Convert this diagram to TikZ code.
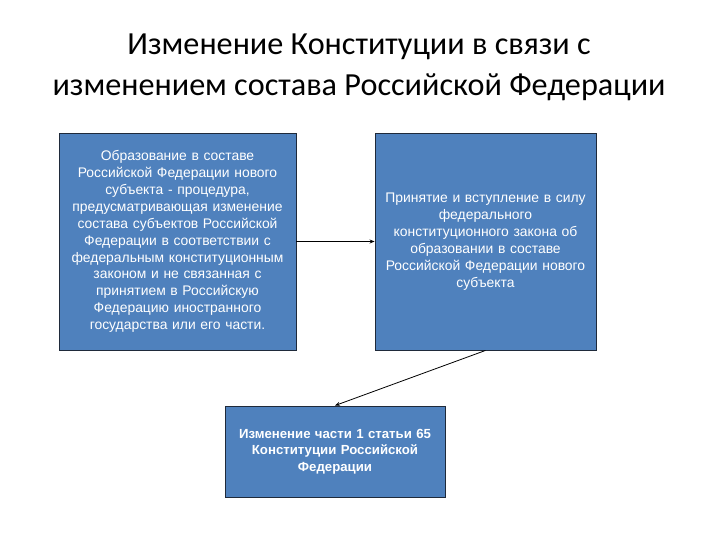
\documentclass[tikz,border=0pt]{standalone}
\usepackage{fontspec}
\setmainfont{Liberation Sans}
\newfontfamily\titlefont{Carlito}
\usepackage{xcolor}
\usetikzlibrary{arrows.meta}
\definecolor{boxblue}{HTML}{4F81BD}
\definecolor{boxline}{HTML}{1F2A3A}

\tikzset{
  blockbox/.style={draw=boxline, line width=0.9pt, fill=boxblue, text=white,
    align=center, inner sep=4pt, font=\fontsize{13.9}{16.9}\selectfont},
  link/.style={-{Stealth[length=5pt,width=4pt]}, line width=0.8pt}
}

\begin{document}
\begin{tikzpicture}[x=1pt, y=-1pt]
\useasboundingbox[fill=white] (0,0) rectangle (720,540);

\node[font=\titlefont\fontsize{32.2}{41}\selectfont, align=center] (title) at (359,67.5)
  {Изменение Конституции в связи с\\изменением состава Российской Федерации};

\node[blockbox, minimum width=237pt, minimum height=217pt, text width=229pt] (form) at (177.5,241.5)
  {Образование в составе\\Российской Федерации нового\\субъекта - процедура,\\предусматривающая изменение\\состава субъектов Российской\\Федерации в соответствии с\\федеральным конституционным\\законом и не связанная с\\принятием в Российскую\\Федерацию иностранного\\государства или его части.};

\node[blockbox, minimum width=221pt, minimum height=217pt, text width=213pt] (law) at (485.5,241.5)
  {Принятие и вступление в силу\\федерального\\конституционного закона об\\образовании в составе\\Российской Федерации нового\\субъекта};

\node[blockbox, minimum width=220pt, minimum height=91pt, text width=212pt,
  font=\bfseries\fontsize{13.2}{16.3}\selectfont] (change) at (335,451.5)
  {Изменение части 1 статьи 65\\Конституции Российской\\Федерации};

\draw[link] (form.east) -- (law.west);
\draw[link] (law.south) -- (change.north);
\end{tikzpicture}
\end{document}
